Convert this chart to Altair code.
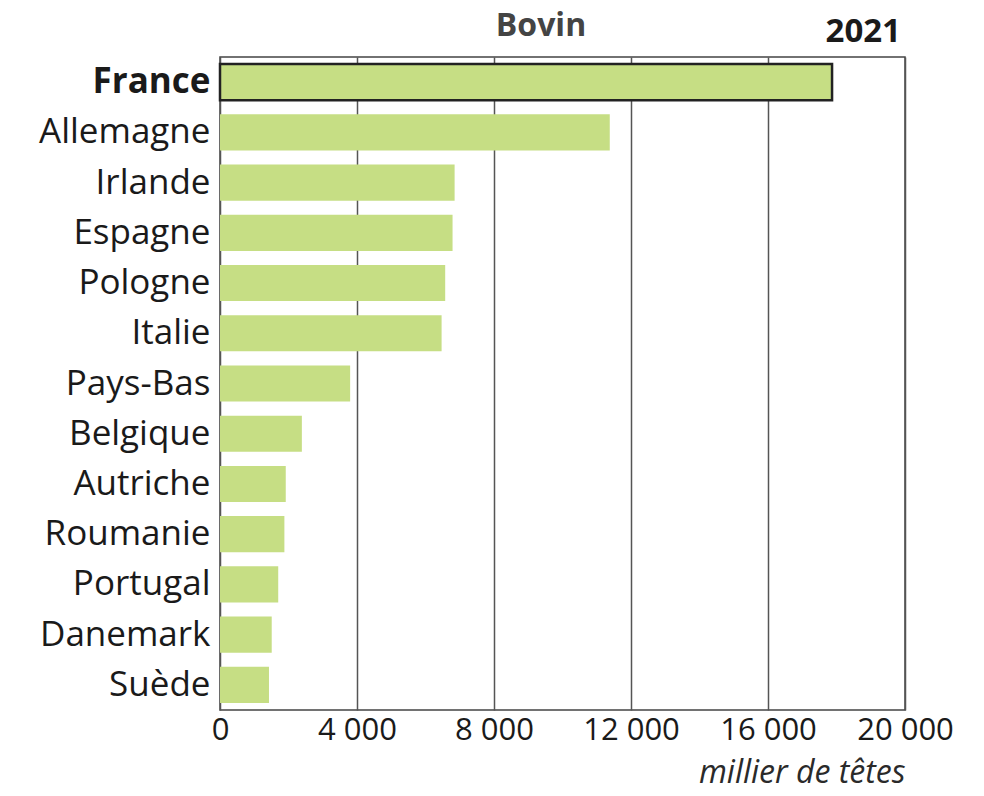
import altair as alt
import pandas as pd

# Cattle herd by EU country, 2021 (thousand head)
pays = ["France", "Allemagne", "Irlande", "Espagne", "Pologne", "Italie",
        "Pays-Bas", "Belgique", "Autriche", "Roumanie", "Portugal",
        "Danemark", "Suède"]
tetes = [17870, 11380, 6850, 6790, 6575, 6470, 3800, 2390, 1920, 1880,
         1700, 1510, 1430]
x_ticks = [0, 4000, 8000, 12000, 16000, 20000]

df = pd.DataFrame({"pays": pays, "tetes": tetes})
df["focus"] = df["pays"] == "France"

FONT = "Open Sans"
INK = "#1a1a1a"
BAR = "#c6de84"

bars = alt.Chart(df).mark_bar(color=BAR, stroke="#222222").encode(
    y=alt.Y(
        "pays:N",
        sort=pays,
        scale=alt.Scale(paddingInner=0.28, paddingOuter=0.14),
        axis=alt.Axis(
            title=None,
            ticks=False,
            domain=False,
            grid=False,
            labelFont=FONT,
            labelFontSize=35,
            labelColor=INK,
            labelPadding=10,
            labelFontWeight=alt.ExprRef(expr="datum.value == 'France' ? 'bold' : 'normal'"),
        ),
    ),
    x=alt.X(
        "tetes:Q",
        scale=alt.Scale(domain=[0, 20000], nice=False),
        axis=alt.Axis(
            values=x_ticks,
            grid=True,
            gridColor="#555555",
            gridWidth=1.5,
            domain=False,
            ticks=False,
            labelFont=FONT,
            labelFontSize=31,
            labelColor=INK,
            labelPadding=5,
            labelFlush=False,
            labelOverlap=False,
            labelExpr="replace(format(datum.value, ','), ',', ' ')",
            title="millier de têtes",
            titleFont=FONT,
            titleFontSize=32,
            titleFontStyle="italic",
            titleFontWeight="normal",
            titleColor="#2a2a2a",
            titleAlign="right",
            titleBaseline="alphabetic",
            titleAnchor="end",
            titleX=685,
            titleY=72,
        ),
    ),
    strokeWidth=alt.condition("datum.focus", alt.value(2.5), alt.value(0)),
)

headers = pd.DataFrame({"txt": ["Bovin"]})
year = pd.DataFrame({"txt": ["2021"]})

title_mark = alt.Chart(headers).mark_text(
    font=FONT, fontSize=32, fontWeight="bold", color="#444444",
    align="center", baseline="alphabetic",
).encode(text="txt:N", x=alt.value(321), y=alt.value(-21))

year_mark = alt.Chart(year).mark_text(
    font=FONT, fontSize=33, fontWeight="bold", color=INK,
    align="right", baseline="alphabetic",
).encode(text="txt:N", x=alt.value(681), y=alt.value(-15))

chart = alt.layer(bars, title_mark, year_mark).properties(
    width=685,
    height=653,
    autosize=alt.AutoSizeParams(type="none"),
    padding={"left": 220, "top": 57, "right": 79, "bottom": 86},
    background="white",
).configure_view(stroke="#444444", strokeWidth=1.5)

chart.save("out.html", embed_options={"renderer": "svg", "actions": False})
